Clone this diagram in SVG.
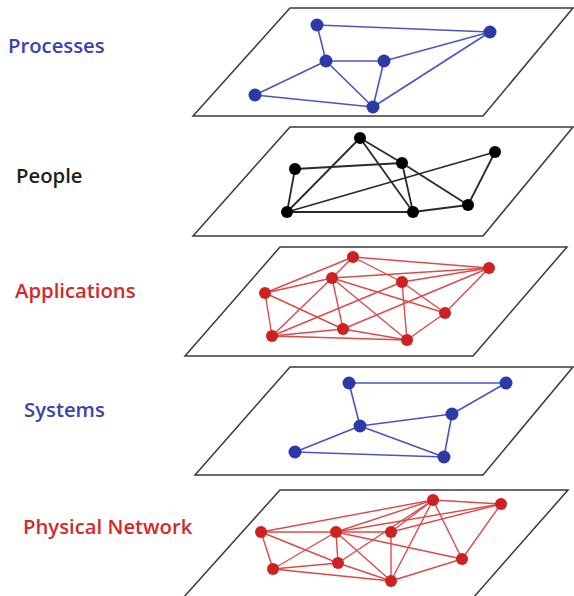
<svg xmlns="http://www.w3.org/2000/svg" width="574" height="596" viewBox="0 0 574 596">
  <style>
    .plane { fill: #ffffff; stroke: #3a3a3a; stroke-width: 1.5; stroke-linejoin: miter; }
    .label { font-family: "Open Sans", "Liberation Sans", sans-serif; font-weight: 600; font-size: 20.3px; }
    .blue-t { fill: #3b43ad; }
    .black-t { fill: #1e1e1e; }
    .red-t { fill: #d22a2a; }
    .e-blue { stroke: #4a55c0; stroke-width: 1.6; fill: none; }
    .e-black { stroke: #2a2a2a; stroke-width: 1.8; fill: none; }
    .e-red { stroke: #dd4a4a; stroke-width: 1.4; fill: none; }
    .n-blue { fill: #2d3aa6; }
    .n-black { fill: #000000; }
    .n-red { fill: #cc2222; }
  </style>
  <rect width="574" height="596" fill="#ffffff"/>

  <!-- Layer labels -->
  <g id="labels" class="label">
    <text class="blue-t" x="8" y="53">Processes</text>
    <text class="black-t" x="16" y="183">People</text>
    <text class="red-t" x="15" y="298">Applications</text>
    <text class="blue-t" x="24" y="417">Systems</text>
    <text class="red-t" x="23" y="534">Physical Network</text>
  </g>

  <!-- Processes layer -->
  <g id="layer-processes">
    <polygon class="plane" points="290,8 573,8 483,116 193,116"/>
    <g id="processes-connectors" class="e-blue">
      <line x1="317" y1="25" x2="490" y2="32"/>
      <line x1="317" y1="25" x2="326" y2="61"/>
      <line x1="326" y1="61" x2="384" y2="61"/>
      <line x1="384" y1="61" x2="490" y2="32"/>
      <line x1="326" y1="61" x2="255" y2="95"/>
      <line x1="326" y1="61" x2="373" y2="107"/>
      <line x1="255" y1="95" x2="373" y2="107"/>
      <line x1="384" y1="61" x2="373" y2="107"/>
      <line x1="373" y1="107" x2="490" y2="32"/>
    </g>
    <g id="proc-1"><circle class="n-blue" cx="317" cy="25" r="6.5"/></g>
    <g id="proc-2"><circle class="n-blue" cx="490" cy="32" r="6.5"/></g>
    <g id="proc-3"><circle class="n-blue" cx="326" cy="61" r="6.5"/></g>
    <g id="proc-4"><circle class="n-blue" cx="384" cy="61" r="6.5"/></g>
    <g id="proc-5"><circle class="n-blue" cx="255" cy="95" r="6.5"/></g>
    <g id="proc-6"><circle class="n-blue" cx="373" cy="107" r="6.5"/></g>
  </g>

  <!-- People layer -->
  <g id="layer-people">
    <polygon class="plane" points="290,127 573,127 483,236 193,236"/>
    <g id="people-connectors" class="e-black">
      <line x1="295" y1="169" x2="402" y2="163"/>
      <line x1="295" y1="169" x2="287" y2="212"/>
      <line x1="287" y1="212" x2="360" y2="138"/>
      <line x1="287" y1="212" x2="495" y2="152"/>
      <line x1="287" y1="212" x2="413" y2="212"/>
      <line x1="360" y1="138" x2="402" y2="163"/>
      <line x1="360" y1="138" x2="413" y2="212"/>
      <line x1="402" y1="163" x2="413" y2="212"/>
      <line x1="402" y1="163" x2="468" y2="205"/>
      <line x1="413" y1="212" x2="468" y2="205"/>
      <line x1="468" y1="205" x2="495" y2="152"/>
    </g>
    <g id="person-1"><circle class="n-black" cx="360" cy="138" r="6"/></g>
    <g id="person-2"><circle class="n-black" cx="495" cy="152" r="6"/></g>
    <g id="person-3"><circle class="n-black" cx="402" cy="163" r="6"/></g>
    <g id="person-4"><circle class="n-black" cx="295" cy="169" r="6"/></g>
    <g id="person-5"><circle class="n-black" cx="287" cy="212" r="6"/></g>
    <g id="person-6"><circle class="n-black" cx="413" cy="212" r="6"/></g>
    <g id="person-7"><circle class="n-black" cx="468" cy="205" r="6"/></g>
  </g>

  <!-- Applications layer -->
  <g id="layer-applications">
    <polygon class="plane" points="280,247 567,247 473,356 185,356"/>
    <g id="applications-connectors" class="e-red">
      <line x1="353" y1="257" x2="489" y2="268"/>
      <line x1="353" y1="257" x2="332" y2="278"/>
      <line x1="353" y1="257" x2="265" y2="293"/>
      <line x1="353" y1="257" x2="402" y2="282"/>
      <line x1="332" y1="278" x2="489" y2="268"/>
      <line x1="402" y1="282" x2="489" y2="268"/>
      <line x1="489" y1="268" x2="445" y2="313"/>
      <line x1="489" y1="268" x2="343" y2="329"/>
      <line x1="332" y1="278" x2="265" y2="293"/>
      <line x1="332" y1="278" x2="272" y2="336"/>
      <line x1="332" y1="278" x2="343" y2="329"/>
      <line x1="332" y1="278" x2="407" y2="340"/>
      <line x1="332" y1="278" x2="445" y2="313"/>
      <line x1="402" y1="282" x2="407" y2="340"/>
      <line x1="402" y1="282" x2="445" y2="313"/>
      <line x1="402" y1="282" x2="272" y2="336"/>
      <line x1="265" y1="293" x2="343" y2="329"/>
      <line x1="265" y1="293" x2="272" y2="336"/>
      <line x1="272" y1="336" x2="343" y2="329"/>
      <line x1="272" y1="336" x2="407" y2="340"/>
      <line x1="343" y1="329" x2="407" y2="340"/>
      <line x1="407" y1="340" x2="445" y2="313"/>
    </g>
    <g id="app-1"><circle class="n-red" cx="353" cy="257" r="6"/></g>
    <g id="app-2"><circle class="n-red" cx="489" cy="268" r="6"/></g>
    <g id="app-3"><circle class="n-red" cx="332" cy="278" r="6"/></g>
    <g id="app-4"><circle class="n-red" cx="402" cy="282" r="6"/></g>
    <g id="app-5"><circle class="n-red" cx="265" cy="293" r="6"/></g>
    <g id="app-6"><circle class="n-red" cx="445" cy="313" r="6"/></g>
    <g id="app-7"><circle class="n-red" cx="343" cy="329" r="6"/></g>
    <g id="app-8"><circle class="n-red" cx="272" cy="336" r="6"/></g>
    <g id="app-9"><circle class="n-red" cx="407" cy="340" r="6"/></g>
  </g>

  <!-- Systems layer -->
  <g id="layer-systems">
    <polygon class="plane" points="290,367 573,367 483,475 195,475"/>
    <g id="systems-connectors" class="e-blue">
      <line x1="349" y1="383" x2="506" y2="383"/>
      <line x1="349" y1="383" x2="360" y2="426"/>
      <line x1="506" y1="383" x2="452" y2="414"/>
      <line x1="360" y1="426" x2="452" y2="414"/>
      <line x1="452" y1="414" x2="444" y2="457"/>
      <line x1="360" y1="426" x2="295" y2="452"/>
      <line x1="360" y1="426" x2="444" y2="457"/>
      <line x1="295" y1="452" x2="444" y2="457"/>
    </g>
    <g id="sys-1"><circle class="n-blue" cx="349" cy="383" r="6.5"/></g>
    <g id="sys-2"><circle class="n-blue" cx="506" cy="383" r="6.5"/></g>
    <g id="sys-3"><circle class="n-blue" cx="452" cy="414" r="6.5"/></g>
    <g id="sys-4"><circle class="n-blue" cx="360" cy="426" r="6.5"/></g>
    <g id="sys-5"><circle class="n-blue" cx="295" cy="452" r="6.5"/></g>
    <g id="sys-6"><circle class="n-blue" cx="444" cy="457" r="6.5"/></g>
  </g>

  <!-- Physical network layer -->
  <g id="layer-physical">
    <polygon class="plane" points="280,490 568,490 473,598 183,598"/>
    <g id="physical-connectors" class="e-red">
      <line x1="261" y1="532" x2="433" y2="500"/>
      <line x1="433" y1="500" x2="501" y2="504"/>
      <line x1="261" y1="532" x2="336" y2="532"/>
      <line x1="261" y1="532" x2="273" y2="569"/>
      <line x1="261" y1="532" x2="338" y2="563"/>
      <line x1="336" y1="532" x2="433" y2="500"/>
      <line x1="336" y1="532" x2="501" y2="504"/>
      <line x1="336" y1="532" x2="391" y2="532"/>
      <line x1="336" y1="532" x2="338" y2="563"/>
      <line x1="336" y1="532" x2="391" y2="581"/>
      <line x1="336" y1="532" x2="462" y2="559"/>
      <line x1="336" y1="532" x2="273" y2="569"/>
      <line x1="391" y1="532" x2="433" y2="500"/>
      <line x1="391" y1="532" x2="501" y2="504"/>
      <line x1="391" y1="532" x2="391" y2="581"/>
      <line x1="338" y1="563" x2="433" y2="500"/>
      <line x1="433" y1="500" x2="391" y2="581"/>
      <line x1="433" y1="500" x2="462" y2="559"/>
      <line x1="501" y1="504" x2="462" y2="559"/>
      <line x1="273" y1="569" x2="338" y2="563"/>
      <line x1="273" y1="569" x2="391" y2="581"/>
      <line x1="338" y1="563" x2="391" y2="581"/>
      <line x1="391" y1="581" x2="462" y2="559"/>
    </g>
    <g id="net-1"><circle class="n-red" cx="433" cy="500" r="6"/></g>
    <g id="net-2"><circle class="n-red" cx="501" cy="504" r="6"/></g>
    <g id="net-3"><circle class="n-red" cx="261" cy="532" r="6"/></g>
    <g id="net-4"><circle class="n-red" cx="336" cy="532" r="6"/></g>
    <g id="net-5"><circle class="n-red" cx="391" cy="532" r="6"/></g>
    <g id="net-6"><circle class="n-red" cx="462" cy="559" r="6"/></g>
    <g id="net-7"><circle class="n-red" cx="273" cy="569" r="6"/></g>
    <g id="net-8"><circle class="n-red" cx="338" cy="563" r="6"/></g>
    <g id="net-9"><circle class="n-red" cx="391" cy="581" r="6"/></g>
  </g>
</svg>
